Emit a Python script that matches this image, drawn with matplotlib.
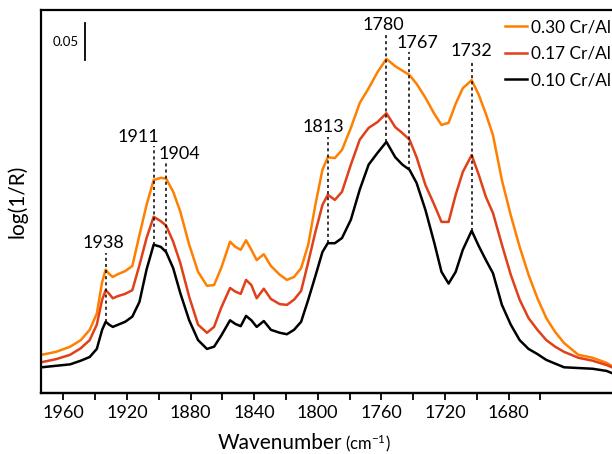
import numpy as np
import matplotlib.pyplot as plt
from matplotlib.ticker import FixedLocator

plt.rcParams['font.family'] = ['Lato', 'DejaVu Sans']
plt.rcParams['mathtext.default'] = 'regular'

# DRIFT spectra of adsorbed CO, three Cr/Al loadings
wavenumber = np.array([
    1974, 1966, 1958, 1952, 1947, 1943, 1940, 1938, 1936, 1934,
    1931, 1927, 1923, 1919, 1915, 1911, 1907, 1904, 1900, 1896,
    1891, 1886, 1881, 1877, 1873, 1868, 1865, 1862, 1859, 1856,
    1853, 1849, 1845, 1840, 1836, 1832, 1828, 1824, 1820, 1816,
    1813, 1809, 1805, 1800, 1795, 1790, 1785, 1780, 1775, 1771,
    1767, 1763, 1758, 1753, 1749, 1745, 1741, 1737, 1732, 1728,
    1724, 1720, 1715, 1710, 1705, 1700, 1695, 1690, 1685, 1680,
    1672, 1664, 1656, 1652])

cr_010 = [
    0.035, 0.037, 0.039, 0.044, 0.049, 0.060, 0.086, 0.097, 0.093, 0.090,
    0.093, 0.097, 0.104, 0.124, 0.168, 0.202, 0.199, 0.192, 0.170, 0.136,
    0.099, 0.072, 0.060, 0.063, 0.078, 0.099, 0.094, 0.091, 0.105, 0.099,
    0.090, 0.098, 0.086, 0.082, 0.080, 0.086, 0.097, 0.127, 0.159, 0.192,
    0.204, 0.204, 0.211, 0.236, 0.277, 0.311, 0.327, 0.342, 0.321, 0.311,
    0.304, 0.286, 0.249, 0.204, 0.165, 0.149, 0.165, 0.195, 0.221, 0.200,
    0.181, 0.163, 0.120, 0.093, 0.072, 0.060, 0.053, 0.045, 0.040, 0.035,
    0.034, 0.033, 0.030, 0.026]

cr_017 = [
    0.042, 0.046, 0.052, 0.061, 0.072, 0.093, 0.127, 0.140, 0.135, 0.129,
    0.132, 0.135, 0.140, 0.174, 0.211, 0.240, 0.234, 0.228, 0.206, 0.177,
    0.131, 0.093, 0.082, 0.090, 0.116, 0.143, 0.138, 0.135, 0.154, 0.147,
    0.129, 0.142, 0.128, 0.121, 0.120, 0.127, 0.139, 0.178, 0.219, 0.256,
    0.270, 0.263, 0.274, 0.311, 0.345, 0.361, 0.369, 0.381, 0.362, 0.354,
    0.345, 0.321, 0.283, 0.256, 0.233, 0.233, 0.270, 0.301, 0.324, 0.297,
    0.267, 0.245, 0.202, 0.161, 0.127, 0.102, 0.086, 0.072, 0.063, 0.056,
    0.048, 0.044, 0.038, 0.034]

cr_030 = [
    0.052, 0.056, 0.063, 0.072, 0.086, 0.108, 0.151, 0.168, 0.162, 0.158,
    0.162, 0.166, 0.173, 0.215, 0.256, 0.290, 0.293, 0.292, 0.274, 0.247,
    0.202, 0.165, 0.146, 0.147, 0.170, 0.206, 0.199, 0.195, 0.208, 0.195,
    0.181, 0.189, 0.173, 0.161, 0.154, 0.158, 0.170, 0.202, 0.256, 0.304,
    0.321, 0.320, 0.331, 0.361, 0.395, 0.415, 0.437, 0.455, 0.445, 0.439,
    0.433, 0.421, 0.402, 0.380, 0.365, 0.368, 0.394, 0.415, 0.426, 0.406,
    0.380, 0.351, 0.290, 0.242, 0.199, 0.161, 0.129, 0.102, 0.083, 0.068,
    0.052, 0.048, 0.041, 0.035]

# band assignments marked with dotted drop lines
peaks = [1938, 1911, 1904, 1813, 1780, 1767, 1732]
peak_tops = [0.191, 0.336, 0.313, 0.349, 0.488, 0.464, 0.453]
label_dx = [-1.5, -11, 9.5, -3, -2, 6, 0]   # label shift, points

axis_ticks = [1960, 1920, 1880, 1840, 1800, 1760, 1720, 1680]
axis_minor = [1940, 1900, 1860, 1820, 1780, 1740, 1700, 1660]

fig = plt.figure(figsize=(6.12, 4.54), dpi=100)
ax = fig.add_axes([0.067, 0.1344, 0.9624, 0.8436])

ax.plot(wavenumber, cr_030, color='#ff7f00', lw=1.8, label='0.30 Cr/Al')
ax.plot(wavenumber, cr_017, color='#e0401a', lw=1.8, label='0.17 Cr/Al')
ax.plot(wavenumber, cr_010, color='black', lw=1.8, label='0.10 Cr/Al')

base = np.interp(peaks, wavenumber[::-1], cr_010[::-1])
for w, y0, y1, dx in zip(peaks, base, peak_tops, label_dx):
    ax.plot([w, w], [y0, y1], color='black', lw=1.1, ls=(0, (2, 2)))
    ax.annotate(str(w), (w, y1), xytext=(dx, 1), textcoords='offset points',
                ha='center', va='bottom', fontsize=13)

# 0.05 scale bar
ax.plot([1949.6, 1949.6], [0.4535, 0.5035], color='black', lw=1.3)
ax.text(1953.0, 0.4774, '0.05', ha='right', va='center', fontsize=9.5)

ax.set_xlim(1974.4, 1642.9)
ax.set_ylim(0, 0.5216)
ax.set_yticks([])
for s in ['left', 'bottom', 'top']:
    ax.spines[s].set_linewidth(1.6)
ax.tick_params(axis='x', bottom=False, labelbottom=False)

# wavenumber scale printed on the bottom axis
def to_axis(w):
    return 1933.34 - 1.1172 * (1938 - w)

def from_axis(t):
    return 1938 - (1933.34 - t) / 1.1172

sec = ax.secondary_xaxis('bottom', functions=(to_axis, from_axis))
sec.xaxis.set_major_locator(FixedLocator(axis_ticks))
sec.xaxis.set_minor_locator(FixedLocator(axis_minor))
sec.spines['bottom'].set_linewidth(1.6)
sec.tick_params(which='both', direction='out', length=5, width=1.3,
                labelsize=13, pad=4)

fig.text(342 / 612, 1 - 449 / 454, 'Wavenumber', ha='right', va='baseline',
         fontsize=15)
fig.text(345 / 612, 1 - 449 / 454, '(cm$^{-1}$)', ha='left', va='baseline',
         fontsize=12)
fig.text(17 / 612, 0.556, 'log(1/R)', rotation=90, ha='center', va='center',
         fontsize=15)

ax.legend(loc='upper left', bbox_to_anchor=(0.825, 0.958),
          bbox_transform=fig.transFigure, frameon=False, fontsize=12.4,
          handlelength=1.3, handletextpad=0.2, labelspacing=0.62,
          borderpad=0, borderaxespad=0)

fig.savefig('out.png', dpi=100)
